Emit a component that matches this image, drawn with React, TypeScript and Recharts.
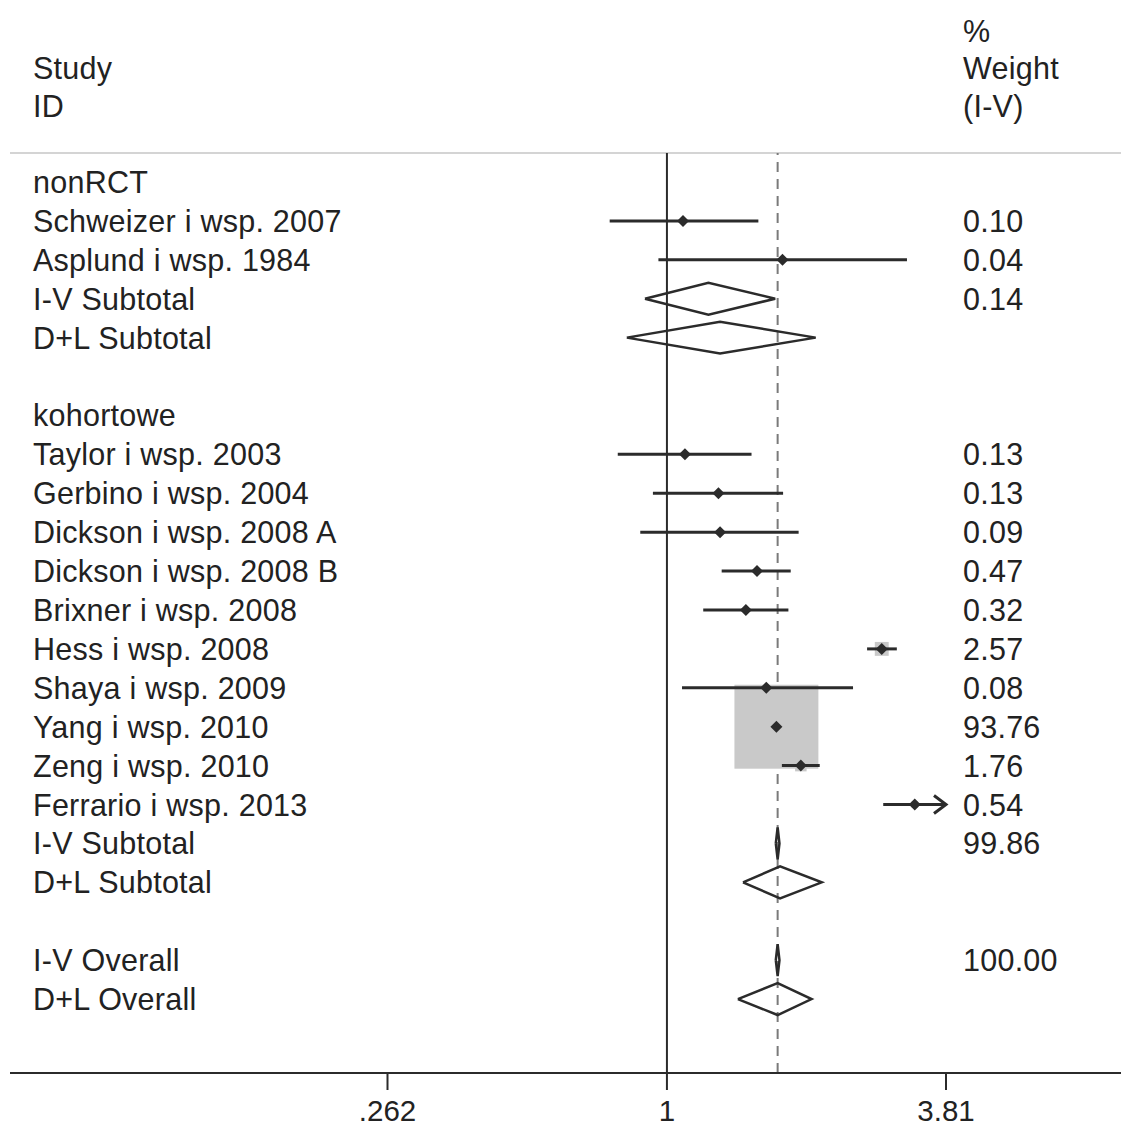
import React from 'react';
import { ScatterChart, Scatter, XAxis, YAxis, ReferenceLine } from 'recharts';

// ---------- data ----------
const rowLabels = [
  'nonRCT',
  'Schweizer i wsp. 2007',
  'Asplund i wsp. 1984',
  'I-V Subtotal',
  'D+L Subtotal',
  '',
  'kohortowe',
  'Taylor i wsp. 2003',
  'Gerbino i wsp. 2004',
  'Dickson i wsp. 2008 A',
  'Dickson i wsp. 2008 B',
  'Brixner i wsp. 2008',
  'Hess i wsp. 2008',
  'Shaya i wsp. 2009',
  'Yang i wsp. 2010',
  'Zeng i wsp. 2010',
  'Ferrario i wsp. 2013',
  'I-V Subtotal',
  'D+L Subtotal',
  '',
  'I-V Overall',
  'D+L Overall',
];
const rowWeights = [
  '', '0.10', '0.04', '0.14', '', '', '',
  '0.13', '0.13', '0.09', '0.47', '0.32', '2.57', '0.08', '93.76', '1.76', '0.54',
  '99.86', '', '', '100.00', '',
];

const studyRows = [1, 2, 7, 8, 9, 10, 11, 12, 13, 14, 15, 16];
const studyEst = [1.08, 1.74, 1.09, 1.28, 1.29, 1.54, 1.46, 2.8, 1.61, 1.69, 1.9, 3.28];
const studyLo = [0.76, 0.96, 0.79, 0.935, 0.88, 1.3, 1.19, 2.61, 1.075, 1.67, 1.735, 2.82];
const studyHi = [1.55, 3.16, 1.5, 1.745, 1.88, 1.81, 1.79, 3.01, 2.44, 1.71, 2.08, 4.5];
const studyWeight = [0.1, 0.04, 0.13, 0.13, 0.09, 0.47, 0.32, 2.57, 0.08, 93.76, 1.76, 0.54];

const pooledRows = [3, 4, 17, 18, 20, 21];
const pooledEst = [1.22, 1.29, 1.7, 1.72, 1.7, 1.7];
const pooledLo = [0.9, 0.825, 1.685, 1.44, 1.685, 1.405];
const pooledHi = [1.68, 2.04, 1.715, 2.1, 1.715, 2.0];

const xTicks = [0.262, 1, 3.81];
const xTickLabels = ['.262', '1', '3.81'];
const xDomain = [0.0429, 8.815];
const nullEffect = 1;
const overallEffect = 1.7;

const headerLeft = ['Study', 'ID'];
const headerRight = ['%', 'Weight', '(I-V)'];

// ---------- style ----------
const FONT = '"Liberation Sans", Arial, Helvetica, sans-serif';
const TEXT = '#222222';
const INK = '#2b2b2b';
const FS = 30.5;
const LS = 0.25;
const LABEL_X = 33;
const WEIGHT_X = 963;
const BOX_SCALE = 8.67;
const DIAMOND_HALF = 0.41;
const yDomain = [-0.745, 22.9];

const clipMax = xTicks[xTicks.length - 1];

const Empty = () => <g />;

const RowTextShape = (props: any) => {
  const { cy, payload } = props;
  return (
    <g>
      <text x={LABEL_X} y={cy} dominantBaseline="central" fontFamily={FONT} fontSize={FS} letterSpacing={LS} fill={TEXT}>
        {payload.label}
      </text>
      <text x={WEIGHT_X} y={cy} dominantBaseline="central" fontFamily={FONT} fontSize={FS} letterSpacing={LS} fill={TEXT}>
        {payload.weight}
      </text>
    </g>
  );
};

const BoxShape = (props: any) => {
  const { cx, cy, payload } = props;
  const s = BOX_SCALE * Math.sqrt(payload.w);
  return <rect x={cx - s / 2} y={cy - s / 2} width={s} height={s} fill="#c9c9c9" />;
};

const PointShape = (props: any) => {
  const { cx, cy } = props;
  const h = 6;
  return <path d={`M${cx - h},${cy} L${cx},${cy - h} L${cx + h},${cy} L${cx},${cy + h} Z`} fill={INK} />;
};

const ArrowShape = (props: any) => {
  const { cx, cy } = props;
  return (
    <path
      d={`M${cx - 12},${cy - 9} L${cx},${cy} L${cx - 12},${cy + 9}`}
      fill="none"
      stroke={INK}
      strokeWidth={3}
      strokeLinejoin="miter"
    />
  );
};

export default function App() {
  const textData = rowLabels.map((label, i) => ({ x: nullEffect, y: i, label, weight: rowWeights[i] }));
  const boxData = studyRows.map((r, i) => ({ x: studyEst[i], y: r, w: studyWeight[i] }));
  const pointData = studyRows.map((r, i) => ({ x: studyEst[i], y: r }));
  const arrowData = studyRows
    .map((r, i) => ({ x: clipMax, y: r, hi: studyHi[i] }))
    .filter((d) => d.hi > clipMax);

  return (
    <div style={{ position: 'absolute', left: 0, top: 0, width: 1121, height: 1131, background: '#fff' }}>
      <svg
        width={1121}
        height={150}
        style={{ position: 'absolute', left: 0, top: 0, pointerEvents: 'none' }}
      >
        {headerLeft.map((t, i) => (
          <text key={'hl' + i} x={LABEL_X} y={68 + i * 37.5} dominantBaseline="central" fontFamily={FONT} fontSize={FS} letterSpacing={LS} fill={TEXT}>
            {t}
          </text>
        ))}
        {headerRight.map((t, i) => (
          <text key={'hr' + i} x={WEIGHT_X} y={30.5 + i * 37.5} dominantBaseline="central" fontFamily={FONT} fontSize={FS} letterSpacing={LS} fill={TEXT}>
            {t}
          </text>
        ))}
      </svg>
      <ScatterChart width={1121} height={1131} margin={{ top: 153, right: 0, bottom: 0, left: 10 }}>
        <XAxis
          type="number"
          dataKey="x"
          scale="log"
          domain={xDomain}
          allowDataOverflow
          ticks={xTicks}
          interval={0}
          tickFormatter={(v: number) => xTickLabels[xTicks.indexOf(v)] ?? String(v)}
          height={58}
          tickSize={17}
          tickMargin={10}
          axisLine={{ stroke: INK, strokeWidth: 2 }}
          tickLine={{ stroke: INK, strokeWidth: 2 }}
          tick={{ fontFamily: FONT, fontSize: FS - 1, fill: TEXT }}
        />
        <YAxis type="number" dataKey="y" domain={yDomain} reversed allowDataOverflow hide />
        <ReferenceLine y={yDomain[0]} stroke="#d4d4d4" strokeWidth={2} />
        <ReferenceLine x={nullEffect} stroke={INK} strokeWidth={2} />
        <ReferenceLine x={overallEffect} stroke="#7a7a7a" strokeWidth={2} strokeDasharray="10 7" />

        <Scatter data={textData} shape={RowTextShape} isAnimationActive={false} legendType="none" />
        <Scatter data={boxData} shape={BoxShape} isAnimationActive={false} legendType="none" />

        {studyRows.map((r, i) => (
          <Scatter
            key={'ci' + i}
            data={[
              { x: studyLo[i], y: r },
              { x: Math.min(studyHi[i], clipMax), y: r },
            ]}
            line={{ stroke: INK, strokeWidth: 3 }}
            fill={INK}
            shape={Empty}
            isAnimationActive={false}
            legendType="none"
          />
        ))}

        {pooledRows.map((r, i) => (
          <Scatter
            key={'pd' + i}
            data={[
              { x: pooledLo[i], y: r },
              { x: pooledEst[i], y: r - DIAMOND_HALF },
              { x: pooledHi[i], y: r },
              { x: pooledEst[i], y: r + DIAMOND_HALF },
              { x: pooledLo[i], y: r },
            ]}
            line={{ stroke: INK, strokeWidth: 2.5, strokeLinejoin: 'miter' }}
            fill={INK}
            shape={Empty}
            isAnimationActive={false}
            legendType="none"
          />
        ))}

        <Scatter data={pointData} shape={PointShape} isAnimationActive={false} legendType="none" />
        <Scatter data={arrowData} shape={ArrowShape} isAnimationActive={false} legendType="none" />
      </ScatterChart>
    </div>
  );
}
